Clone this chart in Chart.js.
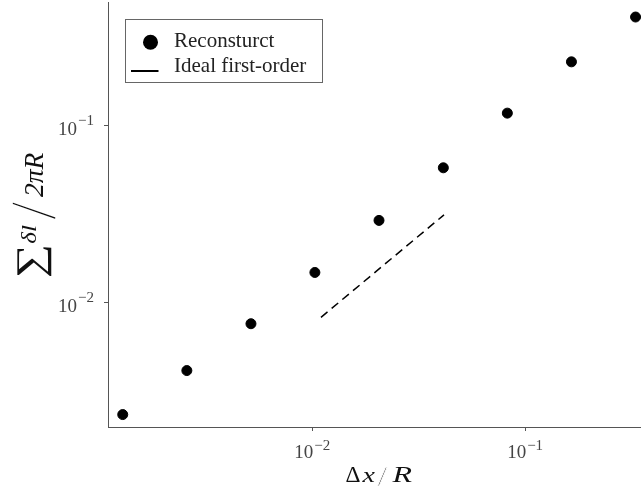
<!DOCTYPE html>
<html><head><meta charset="utf-8">
<script src="https://cdn.jsdelivr.net/npm/chart.js@4"></script>
<style>html,body{margin:0;padding:0;background:#fff}</style>
</head><body>
<canvas id="c" width="641" height="491"></canvas>
<script>
// Data
const dxR = [0.00129, 0.00258, 0.00516, 0.0103, 0.0206, 0.0413, 0.0825, 0.165, 0.33];
const sumDl = [0.00235, 0.00416, 0.00764, 0.01486, 0.0292, 0.0578, 0.1175, 0.2286, 0.409];
const idealX = [0.011, 0.0416];
const idealY = [0.0083, 0.0314];
const xTickVals = [0.01, 0.1];
const yTickVals = [0.01, 0.1];
const xTickExp = ['\u22122', '\u22121'];
const yTickExp = ['\u22122', '\u22121'];
const legendLabels = ['Reconsturct', 'Ideal first-order'];

const SERIF = '"Liberation Serif", "DejaVu Serif", serif';
const AXIS = '#555';

// Draw text so that its ink fills the box [left,right]x[top,bottom]
function fitBox(ctx, text, style, left, top, right, bottom, erode) {
  ctx.save();
  ctx.font = style + ' 40px ' + SERIF;
  ctx.textBaseline = 'alphabetic';
  ctx.textAlign = 'left';
  const m = ctx.measureText(text);
  const w = m.actualBoundingBoxLeft + m.actualBoundingBoxRight;
  const h = m.actualBoundingBoxAscent + m.actualBoundingBoxDescent;
  ctx.translate(left, top);
  ctx.scale((right - left) / w, (bottom - top) / h);
  ctx.fillText(text, m.actualBoundingBoxLeft, m.actualBoundingBoxAscent);
  if (erode) {
    ctx.strokeStyle = '#fff';
    ctx.lineWidth = erode;
    ctx.strokeText(text, m.actualBoundingBoxLeft, m.actualBoundingBoxAscent);
  }
  ctx.restore();
}

const decor = {
  id: 'decor',
  afterDraw(chart) {
    const ctx = chart.ctx;
    const xs = chart.scales.x, ys = chart.scales.y;
    ctx.save();
    // tick labels
    ctx.fillStyle = '#444';
    ctx.textBaseline = 'alphabetic';
    ctx.textAlign = 'left';
    const F1 = '19px ' + SERIF, F2 = '15px ' + SERIF;
    xTickVals.forEach((v, i) => {
      const px = xs.getPixelForValue(v);
      ctx.font = F1;
      const w1 = ctx.measureText('10').width + 1;
      ctx.font = F2;
      const w2 = ctx.measureText(xTickExp[i]).width;
      const st = px - (w1 + w2) / 2;
      ctx.font = F1;
      ctx.fillText('10', st, xs.top + 30.5);
      ctx.font = F2;
      ctx.fillText(xTickExp[i], st + w1, xs.top + 23.3);
    });
    yTickVals.forEach((v, i) => {
      const py = ys.getPixelForValue(v);
      ctx.font = F1;
      const w1 = ctx.measureText('10').width + 1;
      ctx.font = F2;
      const w2 = ctx.measureText(yTickExp[i]).width;
      const st = 94 - w1 - w2;
      ctx.font = F1;
      ctx.fillText('10', st, py + 9.3);
      ctx.font = F2;
      ctx.fillText(yTickExp[i], st + w1, py - 1);
    });

    // x title  Δx/R
    ctx.fillStyle = '#111';
    fitBox(ctx, '\u0394', 'normal', 346, 466.7, 360, 481.7);
    fitBox(ctx, 'x', 'italic', 361.7, 471.7, 375, 481.7);
    fitBox(ctx, '/', 'normal', 377.5, 466, 388, 485.5, 1.2);
    fitBox(ctx, 'R', 'italic', 391.7, 466.7, 411.7, 481.7);

    // y title  ∑ δl / 2πR  (rotated)
    ctx.save();
    ctx.translate(45, 277);
    ctx.rotate(-Math.PI / 2);
    fitBox(ctx, '\u2211', 'normal', 0, -28.3, 30, 6.7);
    fitBox(ctx, '\u03b4l', 'italic', 34, -24.3, 52, -9);
    fitBox(ctx, '/', 'normal', 57, -32, 77, 10, 1.0);
    fitBox(ctx, '2\u03c0R', 'italic', 80, -20, 124, -2.3);
    ctx.restore();

    // legend
    ctx.fillStyle = '#fff';
    ctx.fillRect(125.5, 19.5, 197, 63);
    ctx.strokeStyle = '#666';
    ctx.lineWidth = 1;
    ctx.strokeRect(125.5, 19.5, 197, 63);
    ctx.fillStyle = '#000';
    ctx.beginPath();
    ctx.arc(150.5, 42.3, 7.5, 0, Math.PI * 2);
    ctx.fill();
    ctx.strokeStyle = '#000';
    ctx.lineWidth = 2;
    ctx.beginPath();
    ctx.moveTo(131, 71);
    ctx.lineTo(158.5, 71);
    ctx.stroke();
    ctx.fillStyle = '#222';
    ctx.font = '21px ' + SERIF;
    ctx.fillText(legendLabels[0], 174, 46.7);
    ctx.fillText(legendLabels[1], 174, 71.5);
    ctx.restore();
  }
};

const tickOnly = (vals) => (s) => { s.ticks = vals.map(v => ({ value: v })); };

new Chart(document.getElementById('c'), {
  type: 'scatter',
  data: {
    datasets: [
      {
        label: legendLabels[0],
        data: dxR.map((x, i) => ({ x, y: sumDl[i] })),
        backgroundColor: '#000',
        borderColor: '#000',
        pointRadius: 5,
        pointHoverRadius: 5,
        showLine: false,
        clip: false
      },
      {
        label: legendLabels[1],
        data: idealX.map((x, i) => ({ x, y: idealY[i] })),
        borderColor: '#000',
        borderWidth: 1.5,
        borderDash: [8.5, 5.4],
        pointRadius: 0,
        showLine: true,
        fill: false,
        clip: false
      }
    ]
  },
  options: {
    responsive: false,
    animation: false,
    devicePixelRatio: 1,
    layout: { autoPadding: false, padding: { left: 104, right: 0, top: 2, bottom: 60 } },
    plugins: { legend: { display: false }, tooltip: { enabled: false } },
    scales: {
      x: {
        type: 'logarithmic',
        min: 0.0011,
        max: 0.35,
        afterBuildTicks: tickOnly(xTickVals),
        ticks: { display: false },
        grid: { display: true, drawOnChartArea: false, drawTicks: true, tickLength: 4, color: AXIS },
        border: { display: true, color: AXIS, width: 1 }
      },
      y: {
        type: 'logarithmic',
        min: 0.002,
        max: 0.497,
        afterBuildTicks: tickOnly(yTickVals),
        ticks: { display: false },
        grid: { display: true, drawOnChartArea: false, drawTicks: true, tickLength: 4, color: AXIS },
        border: { display: true, color: AXIS, width: 1 }
      }
    }
  },
  plugins: [decor]
});
</script>
</body></html>
